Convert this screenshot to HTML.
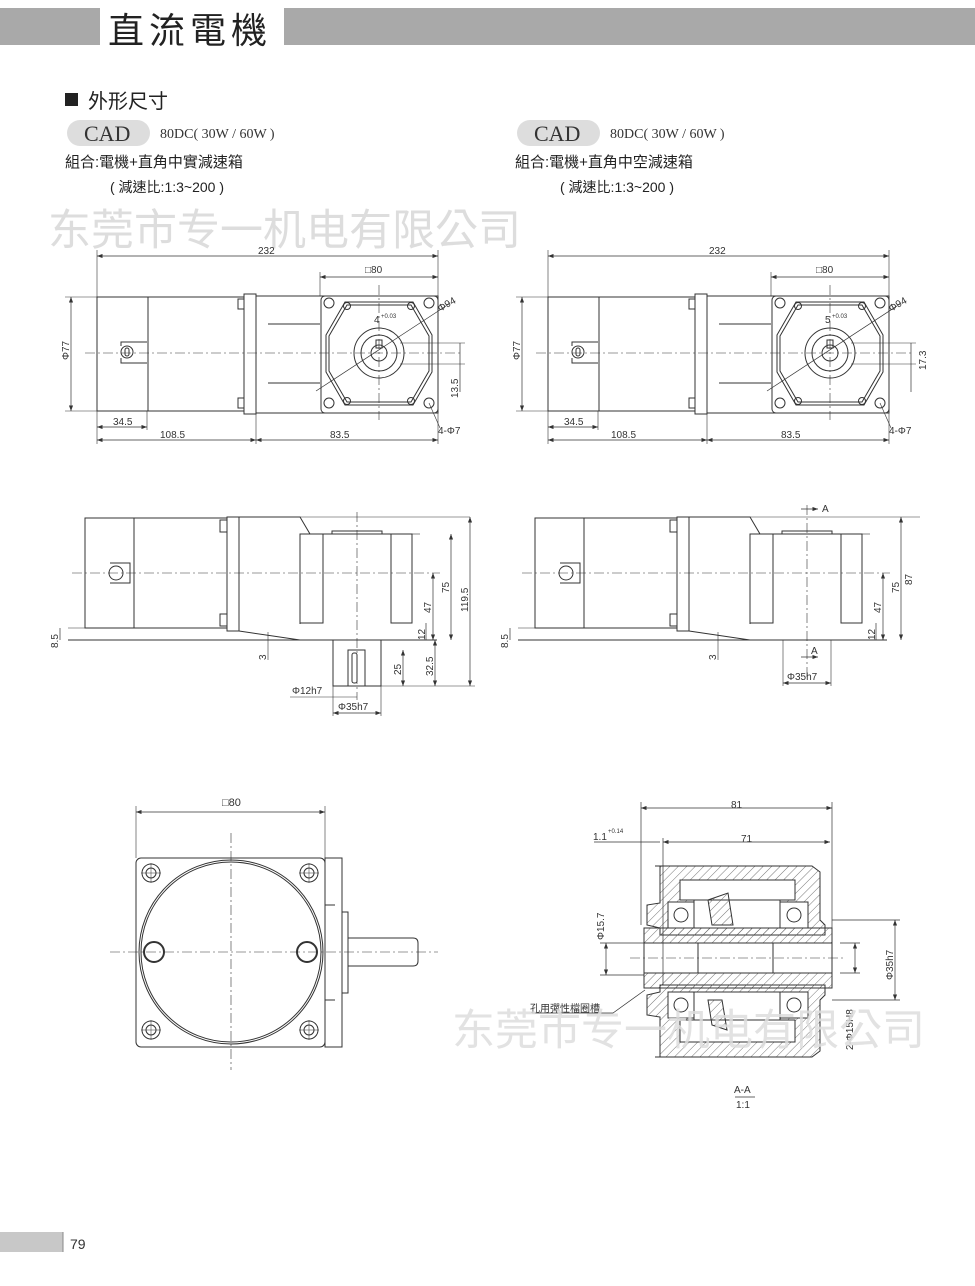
<!DOCTYPE html>
<html><head><meta charset="utf-8"><style>
html,body{margin:0;padding:0;background:#fff}
body{width:975px;height:1286px;position:relative;overflow:hidden}
svg{position:absolute;left:0;top:0}
</style></head><body>
<svg width="975" height="1286" viewBox="0 0 975 1286" xmlns="http://www.w3.org/2000/svg" font-family="'Liberation Sans','Noto Sans CJK TC',sans-serif">
<defs>
<pattern id="h" width="6" height="6" patternUnits="userSpaceOnUse" patternTransform="rotate(45)"><line x1="0" y1="0" x2="0" y2="6" stroke="#555" stroke-width="0.8"/></pattern>
<marker id="a" markerWidth="8" markerHeight="6" refX="8" refY="3" orient="auto-start-reverse"><path d="M0,0 L8,3 L0,6z" fill="#333"/></marker>
</defs>
<!-- header -->
<rect x="0" y="8" width="975" height="37" fill="#a9a9a9"/>
<rect x="100" y="6" width="184" height="41" fill="#fff"/>
<text x="108" y="43" font-size="36" letter-spacing="5" fill="#222" font-family="'Liberation Sans','Noto Sans CJK TC',sans-serif">直流電機</text>
<rect x="0" y="1232" width="63" height="20" fill="#c8c8c8"/>
<line x1="63" y1="1232" x2="63" y2="1252" stroke="#888"/>
<text x="70" y="1249" font-size="14" fill="#333">79</text>
<!-- titles -->
<rect x="65" y="93" width="13" height="13" fill="#222"/>
<text x="88" y="108" font-size="20" fill="#222">外形尺寸</text>
<rect x="67" y="120" width="83" height="26" rx="13" fill="#ddd"/>
<text x="84" y="141" font-size="22" font-family="'Liberation Serif',serif" fill="#333">CAD</text>
<text x="160" y="138" font-size="14" font-family="'Liberation Serif',serif" fill="#333">80DC( 30W / 60W )</text>
<text x="65" y="167" font-size="15" fill="#222">組合:電機+直角中實減速箱</text>
<text x="110" y="192" font-size="14" fill="#222">( 減速比:1:3~200 )</text>
<rect x="517" y="120" width="83" height="26" rx="13" fill="#ddd"/>
<text x="534" y="141" font-size="22" font-family="'Liberation Serif',serif" fill="#333">CAD</text>
<text x="610" y="138" font-size="14" font-family="'Liberation Serif',serif" fill="#333">80DC( 30W / 60W )</text>
<text x="515" y="167" font-size="15" fill="#222">組合:電機+直角中空減速箱</text>
<text x="560" y="192" font-size="14" fill="#222">( 減速比:1:3~200 )</text>
<text x="48" y="245" font-size="43" fill="#ddd">东莞市专一机电有限公司</text>

<g id="top" stroke="#333" fill="none" stroke-width="1">
<line x1="97" y1="256" x2="438" y2="256" marker-start="url(#a)" marker-end="url(#a)" stroke-width="0.7"/>
<line x1="97" y1="250" x2="97" y2="297" stroke-width="0.6"/><line x1="438" y1="250" x2="438" y2="296" stroke-width="0.6"/>
<line x1="320" y1="277" x2="438" y2="277" marker-start="url(#a)" marker-end="url(#a)" stroke-width="0.7"/>
<line x1="320" y1="272" x2="320" y2="296" stroke-width="0.6"/>
<rect x="97" y="297" width="51" height="114"/>
<rect x="148" y="297" width="96" height="114"/>
<rect x="238" y="299" width="6" height="10"/><rect x="238" y="398" width="6" height="10"/>
<rect x="244" y="294" width="12" height="120"/>
<rect x="256" y="296" width="182" height="117"/>
<line x1="268" y1="324" x2="320" y2="324"/><line x1="268" y1="383" x2="320" y2="383"/>
<rect x="321" y="296" width="117" height="117" rx="4"/>
<path d="M345,302 L413,302 L432,335 L432,372 L413,405 L345,405 L326,372 L326,335Z"/>
<path d="M347,305 L411,305 L429,336 L429,371 L411,402 L347,402 L329,371 L329,336Z"/>
<circle cx="329" cy="303" r="5"/><circle cx="429" cy="303" r="5"/><circle cx="329" cy="403" r="5"/><circle cx="429" cy="403" r="5"/>
<circle cx="347" cy="306" r="3.5"/><circle cx="411" cy="306" r="3.5"/><circle cx="347" cy="401" r="3.5"/><circle cx="411" cy="401" r="3.5"/>
<circle cx="379" cy="353" r="25"/><circle cx="379" cy="353" r="18"/><circle cx="379" cy="353" r="8"/>
<rect x="376" y="340" width="6" height="8"/>
<line x1="85" y1="353" x2="462" y2="353" stroke-dasharray="10,3,2,3" stroke-width="0.6"/>
<line x1="379" y1="285" x2="379" y2="420" stroke-dasharray="10,3,2,3" stroke-width="0.6"/>
<line x1="316" y1="391" x2="449" y2="304" stroke-width="0.7"/>
<line x1="71" y1="297" x2="71" y2="411" marker-start="url(#a)" marker-end="url(#a)" stroke-width="0.7"/>
<line x1="65" y1="297" x2="97" y2="297" stroke-width="0.6"/><line x1="65" y1="411" x2="97" y2="411" stroke-width="0.6"/>
<line x1="460" y1="343" x2="460" y2="392" stroke-width="0.7"/>
<line x1="400" y1="343" x2="465" y2="343" stroke-width="0.6"/><line x1="400" y1="364" x2="465" y2="364" stroke-width="0.6"/>
<line x1="97" y1="427" x2="147" y2="427" marker-start="url(#a)" marker-end="url(#a)" stroke-width="0.7"/>
<line x1="147" y1="411" x2="147" y2="430" stroke-width="0.6"/>
<line x1="97" y1="440" x2="256" y2="440" marker-start="url(#a)" marker-end="url(#a)" stroke-width="0.7"/>
<line x1="256" y1="440" x2="438" y2="440" marker-start="url(#a)" marker-end="url(#a)" stroke-width="0.7"/>
<line x1="97" y1="411" x2="97" y2="444" stroke-width="0.6"/><line x1="256" y1="414" x2="256" y2="444" stroke-width="0.6"/><line x1="438" y1="413" x2="438" y2="444" stroke-width="0.6"/>
<line x1="429" y1="403" x2="440" y2="428" stroke-width="0.6"/>
<ellipse cx="127" cy="352" rx="6" ry="6"/><rect x="125" y="348" width="4" height="8" rx="2"/>
<path d="M121,346 L121,342 L147,342 M121,358 L121,363 L147,363"/>
</g>
<g font-size="10" fill="#333">
<text x="258" y="254">232</text><text x="365" y="273">□80</text>
<text x="113" y="425">34.5</text><text x="160" y="438">108.5</text><text x="330" y="438">83.5</text>
<text x="438" y="434">4-Φ7</text><text x="440" y="312" transform="rotate(-30 440 312)">Φ94</text>
<text x="69" y="360" transform="rotate(-90 69 360)">Φ77</text>
<text x="458" y="398" transform="rotate(-90 458 398)">13.5</text>
<text x="374" y="323">4</text><text x="381" y="318" font-size="6">+0.03</text>
</g>
<use href="#top" x="451"/>
<g font-size="10" fill="#333">
<text x="709" y="254">232</text><text x="816" y="273">□80</text>
<text x="564" y="425">34.5</text><text x="611" y="438">108.5</text><text x="781" y="438">83.5</text>
<text x="889" y="434">4-Φ7</text><text x="891" y="312" transform="rotate(-30 891 312)">Φ94</text>
<text x="520" y="360" transform="rotate(-90 520 360)">Φ77</text>
<text x="926" y="370" transform="rotate(-90 926 370)">17.3</text>
<text x="825" y="323">5</text><text x="832" y="318" font-size="6">+0.03</text>
</g>

<!-- middle views -->
<g id="mid" stroke="#333" fill="none" stroke-width="1">
<rect x="85" y="518" width="49" height="110"/>
<rect x="134" y="518" width="93" height="110"/>
<rect x="220" y="520" width="7" height="12"/><rect x="220" y="614" width="7" height="12"/>
<rect x="227" y="517" width="12" height="114"/>
<path d="M239,517 L300,517 L310,534 L412,534 M239,631 L239,517 M239,631 L300,640 M300,624 L300,534"/>
<line x1="68" y1="640" x2="437" y2="640"/>
<line x1="68" y1="628" x2="134" y2="628" stroke-width="0.6"/>
<rect x="300" y="534" width="23" height="89"/><rect x="391" y="534" width="21" height="89"/>
<rect x="332" y="531" width="50" height="3"/>
<line x1="412" y1="534" x2="420" y2="534" stroke-width="0.6"/>
<line x1="72" y1="573" x2="440" y2="573" stroke-dasharray="10,3,2,3" stroke-width="0.6"/>
<ellipse cx="116" cy="573" rx="7" ry="7"/><path d="M110,563 L130,563 L130,583 L110,583"/>
<line x1="300" y1="517" x2="470" y2="517" stroke-width="0.6"/>
</g>
<g stroke="#333" fill="none" stroke-width="1">
<line x1="357" y1="512" x2="357" y2="700" stroke-dasharray="10,3,2,3" stroke-width="0.6"/>
<rect x="333" y="640" width="48" height="46"/>
<rect x="348" y="650" width="17" height="36"/><rect x="352" y="653" width="5" height="30" rx="2"/>
<line x1="470" y1="517" x2="470" y2="686" marker-start="url(#a)" marker-end="url(#a)" stroke-width="0.7"/>
<line x1="451" y1="534" x2="451" y2="640" marker-start="url(#a)" marker-end="url(#a)" stroke-width="0.7"/>
<line x1="433" y1="573" x2="433" y2="640" marker-start="url(#a)" marker-end="url(#a)" stroke-width="0.7"/>
<line x1="435" y1="640" x2="435" y2="686" marker-start="url(#a)" marker-end="url(#a)" stroke-width="0.7"/>
<line x1="403" y1="650" x2="403" y2="686" marker-start="url(#a)" marker-end="url(#a)" stroke-width="0.7"/>
<line x1="426" y1="623" x2="426" y2="640" stroke-width="0.7"/>
<line x1="365" y1="686" x2="475" y2="686" stroke-width="0.6"/>
<line x1="60" y1="628" x2="60" y2="640" stroke-width="0.7"/>
<line x1="268" y1="632" x2="268" y2="660" stroke-width="0.6"/>
<line x1="290" y1="697" x2="357" y2="697" stroke-width="0.6"/>
<line x1="333" y1="713" x2="381" y2="713" marker-start="url(#a)" marker-end="url(#a)" stroke-width="0.7"/>
<line x1="333" y1="686" x2="333" y2="716" stroke-width="0.6"/><line x1="381" y1="686" x2="381" y2="716" stroke-width="0.6"/>
</g>
<g font-size="10" fill="#333">
<text x="58" y="648" transform="rotate(-90 58 648)">8.5</text>
<text x="266" y="660" transform="rotate(-90 266 660)">3</text>
<text x="449" y="593" transform="rotate(-90 449 593)">75</text>
<text x="468" y="612" transform="rotate(-90 468 612)">119.5</text>
<text x="431" y="613" transform="rotate(-90 431 613)">47</text>
<text x="425" y="640" transform="rotate(-90 425 640)">12</text>
<text x="433" y="676" transform="rotate(-90 433 676)">32.5</text>
<text x="401" y="675" transform="rotate(-90 401 675)">25</text>
<text x="292" y="694">Φ12h7</text><text x="338" y="710">Φ35h7</text>
</g>
<use href="#mid" x="450"/>
<g stroke="#333" fill="none" stroke-width="1">
<line x1="807" y1="505" x2="807" y2="680" stroke-dasharray="10,3,2,3" stroke-width="0.6"/>
<line x1="801" y1="509" x2="818" y2="509" marker-end="url(#a)" stroke-width="0.7"/>
<line x1="801" y1="657" x2="818" y2="657" marker-end="url(#a)" stroke-width="0.7"/>
<line x1="901" y1="517" x2="901" y2="640" marker-start="url(#a)" marker-end="url(#a)" stroke-width="0.7"/>
<line x1="883" y1="573" x2="883" y2="640" marker-start="url(#a)" marker-end="url(#a)" stroke-width="0.7"/>
<line x1="876" y1="623" x2="876" y2="640" stroke-width="0.7"/>
<line x1="783" y1="640" x2="783" y2="686" stroke-width="0.6"/><line x1="831" y1="640" x2="831" y2="686" stroke-width="0.6"/>
<line x1="783" y1="683" x2="831" y2="683" marker-start="url(#a)" marker-end="url(#a)" stroke-width="0.7"/>
<line x1="510" y1="628" x2="510" y2="640" stroke-width="0.7"/>
<line x1="718" y1="632" x2="718" y2="660" stroke-width="0.6"/>
</g>
<g font-size="10" fill="#333">
<text x="822" y="512">A</text><text x="811" y="654">A</text>
<text x="508" y="648" transform="rotate(-90 508 648)">8.5</text>
<text x="716" y="660" transform="rotate(-90 716 660)">3</text>
<text x="899" y="593" transform="rotate(-90 899 593)">75</text>
<text x="912" y="585" transform="rotate(-90 912 585)">87</text>
<text x="881" y="613" transform="rotate(-90 881 613)">47</text>
<text x="875" y="640" transform="rotate(-90 875 640)">12</text>
<text x="787" y="680">Φ35h7</text>
</g>

<!-- bottom-left front view -->
<g stroke="#333" fill="none" stroke-width="1">
<line x1="136" y1="812" x2="325" y2="812" marker-start="url(#a)" marker-end="url(#a)" stroke-width="0.7"/>
<line x1="136" y1="806" x2="136" y2="858" stroke-width="0.6"/><line x1="325" y1="806" x2="325" y2="858" stroke-width="0.6"/>
<rect x="136" y="858" width="189" height="189" rx="5"/>
<circle cx="231" cy="952" r="92"/><circle cx="231" cy="952" r="90"/>
<g id="hole"><circle cx="151" cy="873" r="9"/><circle cx="151" cy="873" r="5"/><line x1="141" y1="873" x2="161" y2="873" stroke-width="0.5"/><line x1="151" y1="863" x2="151" y2="883" stroke-width="0.5"/></g>
<use href="#hole" x="158"/><use href="#hole" y="157"/><use href="#hole" x="158" y="157"/>
<circle cx="154" cy="952" r="10" stroke-width="2"/><circle cx="307" cy="952" r="10" stroke-width="2"/>
<rect x="325" y="858" width="17" height="189"/>
<rect x="342" y="912" width="6" height="81"/>
<path d="M348,938 L413,938 Q418,938 418,943 L418,961 Q418,966 413,966 L348,966"/>
<line x1="325" y1="905" x2="335" y2="905"/><line x1="325" y1="1000" x2="335" y2="1000"/>
<line x1="110" y1="952" x2="438" y2="952" stroke-dasharray="10,3,2,3" stroke-width="0.6"/>
<line x1="231" y1="833" x2="231" y2="1070" stroke-dasharray="10,3,2,3" stroke-width="0.6"/>
</g>
<text x="222" y="806" font-size="11" fill="#333">□80</text>

<!-- section A-A -->
<g stroke="#333" stroke-width="1">
<path d="M655,866 L812,866 L820,872 L820,920 L825,925 L825,935 L660,935 L660,928 L647,925 L647,905 L660,903 L660,866Z" fill="url(#h)"/>
<path d="M655,1057 L812,1057 L820,1051 L820,1000 L825,995 L825,985 L660,985 L660,992 L647,995 L647,1015 L660,1017 L660,1057Z" fill="url(#h)"/>
<rect x="680" y="880" width="115" height="20" fill="#fff"/>
<rect x="680" y="1020" width="115" height="22" fill="#fff"/>
<rect x="668" y="902" width="26" height="26" fill="#fff"/><circle cx="681" cy="915" r="7" fill="#fff"/>
<rect x="780" y="902" width="28" height="26" fill="#fff"/><circle cx="794" cy="915" r="7" fill="#fff"/>
<rect x="668" y="992" width="26" height="26" fill="#fff"/><circle cx="681" cy="1005" r="7" fill="#fff"/>
<rect x="780" y="992" width="28" height="26" fill="#fff"/><circle cx="794" cy="1005" r="7" fill="#fff"/>
<rect x="694" y="900" width="86" height="28" fill="#fff"/>
<rect x="694" y="992" width="86" height="28" fill="#fff"/>
<path d="M708,900 L728,893 L733,925 L712,925Z" fill="url(#h)"/>
<path d="M708,1000 L722,1000 L727,1030 L712,1025Z" fill="url(#h)"/>
<rect x="644" y="928" width="188" height="15" fill="url(#h)"/>
<rect x="644" y="973" width="188" height="15" fill="url(#h)"/>
<rect x="644" y="943" width="188" height="30" fill="#fff"/>
<line x1="698" y1="943" x2="698" y2="973"/><line x1="773" y1="943" x2="773" y2="973"/>
</g>
<g stroke="#333" fill="none" stroke-width="0.7">
<line x1="630" y1="958" x2="845" y2="958" stroke-dasharray="10,3,2,3" stroke-width="0.6"/>
<line x1="641" y1="808" x2="832" y2="808" marker-start="url(#a)" marker-end="url(#a)"/>
<line x1="641" y1="802" x2="641" y2="925"/><line x1="832" y1="802" x2="832" y2="928"/>
<line x1="663" y1="842" x2="830" y2="842" marker-start="url(#a)" marker-end="url(#a)"/>
<line x1="594" y1="842" x2="660" y2="842"/>
<line x1="663" y1="838" x2="663" y2="985"/>
<line x1="606" y1="943" x2="606" y2="975" marker-start="url(#a)" marker-end="url(#a)"/>
<line x1="600" y1="943" x2="644" y2="943"/><line x1="600" y1="975" x2="644" y2="975"/>
<line x1="855" y1="943" x2="855" y2="973" marker-start="url(#a)" marker-end="url(#a)"/>
<line x1="832" y1="920" x2="900" y2="920"/><line x1="832" y1="1000" x2="900" y2="1000"/>
<line x1="895" y1="920" x2="895" y2="1000" marker-start="url(#a)" marker-end="url(#a)"/>
<line x1="840" y1="943" x2="860" y2="943"/><line x1="840" y1="973" x2="860" y2="973"/>
<path d="M532,1013 L613,1013 L645,990"/>
<line x1="735" y1="1097" x2="755" y2="1097"/>
</g>
<g font-size="10" fill="#333">
<text x="731" y="808">81</text><text x="741" y="842">71</text>
<text x="593" y="840">1.1</text><text x="608" y="833" font-size="6">+0.14</text>
<text x="604" y="940" transform="rotate(-90 604 940)">Φ15.7</text>
<text x="893" y="980" transform="rotate(-90 893 980)">Φ35h7</text>
<text x="853" y="1050" transform="rotate(-90 853 1050)">2-Φ15H8</text>
<text x="530" y="1012">孔用彈性檔圈槽</text>
<text x="734" y="1093">A-A</text><text x="736" y="1108">1:1</text>
</g>
<text x="452" y="1045" font-size="43" fill="#ddd" opacity="0.85">东莞市专一机电有限公司</text>
</svg>
</body></html>
